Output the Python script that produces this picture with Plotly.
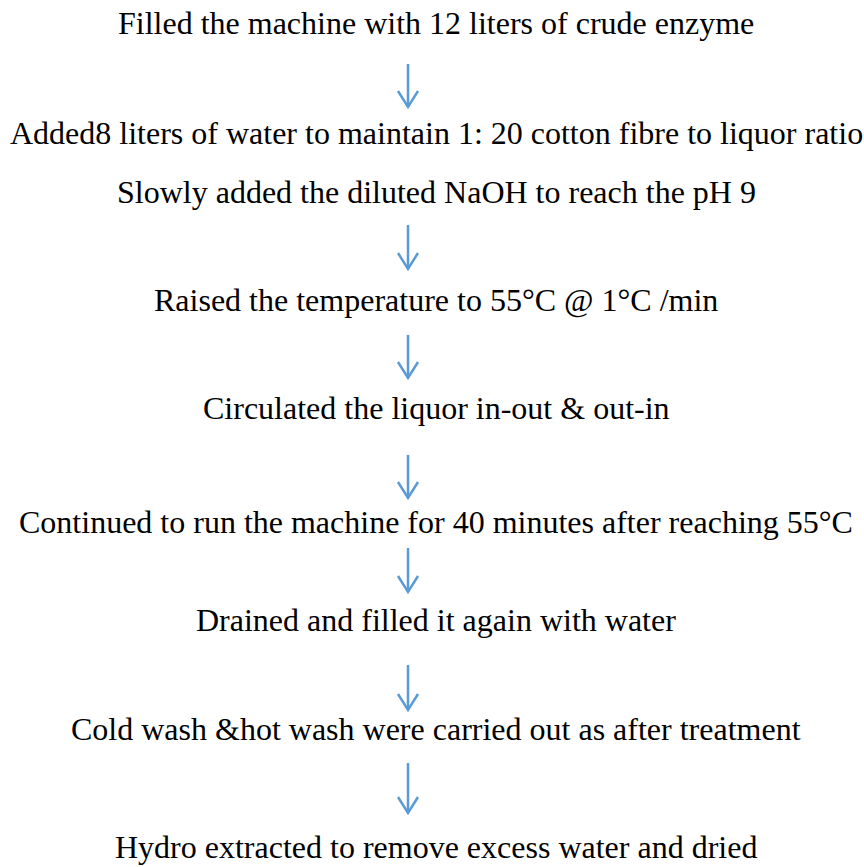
import plotly.graph_objects as go

steps = [
    "Filled the machine with 12 liters of crude enzyme",
    "Added8 liters of water to maintain 1: 20 cotton fibre to liquor ratio",
    "Slowly added the diluted NaOH to reach the pH 9",
    "Raised the temperature to 55°C @ 1°C /min",
    "Circulated the liquor in-out & out-in",
    "Continued to run the machine for 40 minutes after reaching 55°C",
    "Drained and filled it again with water",
    "Cold wash &hot wash were carried out as after treatment",
    "Hydro extracted to remove excess water and dried",
]
step_y = [23, 133, 192, 300, 408, 522, 620, 729, 847]

arrow_x = 408
arrow_top = [64, 225, 335, 455, 548, 665, 763]
arrow_tip = [107, 269, 378, 498, 592, 710, 813]

W, H = 864, 867
ARROW_COLOR = "#5B9BD5"
HEAD_W, HEAD_H = 10, 16

fig = go.Figure()

for t, b in zip(arrow_top, arrow_tip):
    fig.add_trace(go.Scatter(
        x=[arrow_x, arrow_x, None, arrow_x - HEAD_W, arrow_x, arrow_x + HEAD_W],
        y=[t, b, None, b - HEAD_H, b, b - HEAD_H],
        mode="lines",
        line=dict(color=ARROW_COLOR, width=2.5),
        hoverinfo="skip",
        showlegend=False,
    ))

for txt, y in zip(steps, step_y):
    fig.add_annotation(
        x=436, y=y, xref="x", yref="y",
        text=txt, showarrow=False,
        xanchor="center", yanchor="middle",
        font=dict(family="Liberation Serif, Times New Roman, serif", size=32, color="#000000"),
    )

fig.update_xaxes(range=[0, W], visible=False, fixedrange=True)
fig.update_yaxes(range=[H, 0], visible=False, fixedrange=True)
fig.update_layout(
    width=W, height=H,
    margin=dict(l=0, r=0, t=0, b=0),
    paper_bgcolor="white", plot_bgcolor="white",
    showlegend=False,
)

fig.write_html(
    "out.html",
    config={"displayModeBar": False, "staticPlot": True},
    post_script="document.body.style.margin='0';document.body.style.overflow='hidden';",
)
